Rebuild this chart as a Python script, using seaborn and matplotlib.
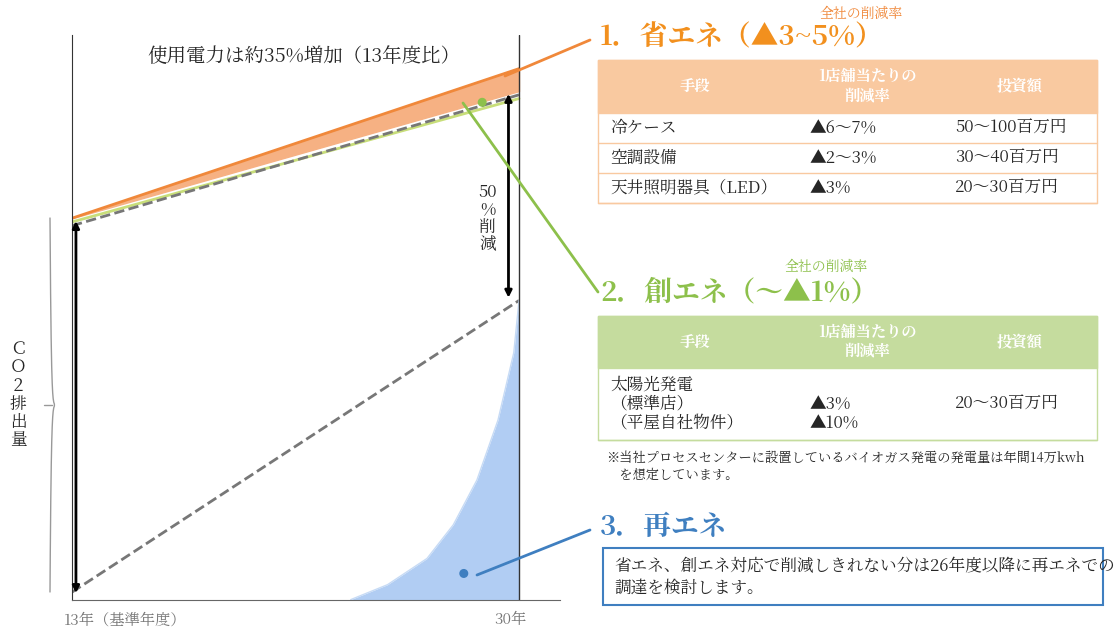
import numpy as np
import matplotlib
matplotlib.use("Agg")
import matplotlib.pyplot as plt
import seaborn as sns
from matplotlib import font_manager
from matplotlib.patches import Rectangle

cjk = [f.name for f in font_manager.fontManager.ttflist if "CJK" in f.name]
jp = [n for n in cjk if "JP" in n] or cjk
sns.set_style("white")
plt.rcParams["font.family"] = (jp[:1] if jp else []) + ["DejaVu Sans"]

# --- data (index: 13年度 = 100) ---
years = [13, 30]
power_top = [100, 140]        # orange upper edge
power_orange_low = [100, 134]  # orange lower edge
green_line = [99, 132]
dashed_upper = [98, 133]
dashed_lower = [0, 78]
curve_years = [23.6, 25.0, 26.5, 27.5, 28.4, 29.2, 29.8, 30.0]
curve_values = [-2, 2, 9, 18, 30, 46, 64, 78]

orange = "#F0883A"
green = "#8DC04B"
blue = "#3F7FC0"

fig = plt.figure(figsize=(11.18, 6.36), dpi=100)
ax = fig.add_axes([72 / 1118, 36 / 636, 488 / 1118, 565 / 636])
ax.set_xlim(13, 13 + 17 * 488 / 447)
ax.set_ylim(-2.1, 149)
for s in ["top", "right"]:
    ax.spines[s].set_visible(False)
ax.spines["left"].set_color("#333")
ax.spines["bottom"].set_color("#666")
ax.set_xticks([]); ax.set_yticks([])

ax.fill_between(years, power_orange_low, power_top, color="#F6B183", zorder=1)
ax.plot(years, power_top, color=orange, lw=2)
sns.lineplot(x=years, y=green_line, color="#C8DE7A", lw=2, ax=ax)
sns.lineplot(x=years, y=dashed_upper, color="#777", lw=2, ls="--", ax=ax)
sns.lineplot(x=years, y=dashed_lower, color="#777", lw=2, ls="--", ax=ax)
ax.fill_between(curve_years, -2.1, curve_values, color="#A9C8F2", alpha=0.9, lw=0)
ax.plot(curve_years, curve_values, color="#C7DBF5", lw=1)
ax.axvline(30, color="#333", lw=1)

ax.annotate("", xy=(13.15, 100), xytext=(13.15, -1), arrowprops=dict(arrowstyle="<|-|>", color="black", lw=2))
ax.annotate("", xy=(29.6, 134), xytext=(29.6, 78), arrowprops=dict(arrowstyle="<|-|>", color="black", lw=2))
ax.text(28.8, 100, "50\n%\n削\n減", ha="center", va="center", fontsize=12, linespacing=1.0)
ax.text(21.8, 143, "使用電力は約35%増加（13年度比）", ha="center", va="center", fontsize=14)
ax.scatter([28.6, 27.9], [131, 5], color=[green, blue], s=30, zorder=5)

# overlay in pixel coordinates
ov = fig.add_axes([0, 0, 1, 1], facecolor="none")
ov.set_xlim(0, 1118); ov.set_ylim(636, 0); ov.axis("off")

ov.text(125, 620, "13年（基準年度）", ha="center", va="center", fontsize=11, color="#777")
ov.text(510, 620, "30年", ha="center", va="center", fontsize=11, color="#777")
ov.text(18, 395, "Ｃ\nＯ\n２\n排\n出\n量", ha="center", va="center", fontsize=12, linespacing=1.05)
yb = np.linspace(218, 592, 200)
xb = 58 - 8 * np.abs((yb - 405) / 187) ** 0.15
ov.plot(xb, yb, color="#999", lw=1)
ov.plot([52, 44], [405, 405], color="#999", lw=1)

# connectors
ov.plot([505, 590], [76, 40], color=orange, lw=2)
ov.plot([463, 598], [103, 292], color=green, lw=2)
ov.plot([477, 590], [575, 530], color=blue, lw=2)

def table(y0, hh, color, rows, rowh, title, tcolor, ty):
    ov.text(600, ty, title, fontsize=20, fontweight="bold", color=tcolor, va="center")
    ov.add_patch(Rectangle((598, y0), 499, hh, facecolor=color, edgecolor=color))
    for x, t in [(695, "手段"), (867, "1店舗当たりの\n削減率"), (1020, "投資額")]:
        ov.text(x, y0 + hh / 2, t, ha="center", va="center", color="white", fontweight="bold", fontsize=11)
    y = y0 + hh
    for r, h in zip(rows, rowh):
        for x, t in zip([610, 810, 955], r):
            ov.text(x, y + h / 2, t, va="center", fontsize=12, linespacing=1.1)
        ov.plot([598, 1097], [y + h, y + h], color=color, lw=1)
        y += h
    ov.add_patch(Rectangle((598, y0), 499, y - y0, fill=False, edgecolor=color, lw=1))

ov.text(820, 14, "全社の削減率", fontsize=10, color=orange, va="center")
table(60, 53, "#F9C9A0", [["冷ケース", "▲6～7%", "50～100百万円"],
                           ["空調設備", "▲2～3%", "30～40百万円"],
                           ["天井照明器具（LED）", "▲3%", "20～30百万円"]],
      [30, 30, 30], "1．省エネ（▲3~5%）", "#F2901E", 38)
ov.text(785, 267, "全社の削減率", fontsize=10, color=green, va="center")
table(316, 52, "#C5DC9E", [["太陽光発電\n（標準店）\n（平屋自社物件）", "\n▲3%\n▲10%", "\n20～30百万円\n"]],
      [72], "2．創エネ（～▲1%）", green, 293)
ov.text(606, 466, "※当社プロセスセンターに設置しているバイオガス発電の発電量は年間14万kwh\n　を想定しています。", fontsize=9.5, va="center", linespacing=1.3)
ov.text(600, 527, "3．再エネ", fontsize=20, fontweight="bold", color=blue, va="center")
ov.add_patch(Rectangle((603, 548), 500, 57, fill=False, edgecolor=blue, lw=1.5))
ov.text(614, 577, "省エネ、創エネ対応で削減しきれない分は26年度以降に再エネでの\n調達を検討します。", fontsize=12, va="center", linespacing=1.3)

fig.savefig("out.png", dpi=100)
